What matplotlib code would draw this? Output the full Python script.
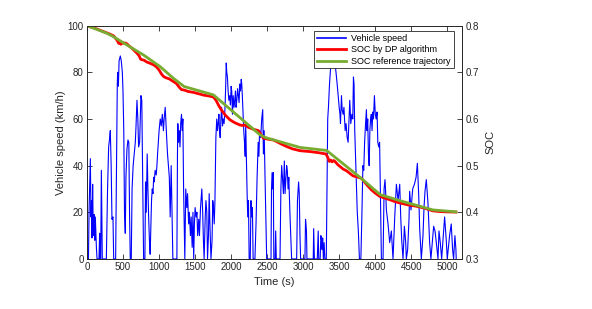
"""Vehicle speed and SOC trajectories (DP vs reference) on twin axes."""
import numpy as np
import matplotlib
matplotlib.use("Agg")
import matplotlib.pyplot as plt

plt.rcParams["font.family"] = ["Liberation Sans", "DejaVu Sans"]

BLUE = "#0000ff"; RED = "#ff0000"; GREEN = "#77ac30"

# vehicle speed trace: (time s, speed km/h)
speed = [
    (0, 0), (20, 0), (28, 20), (46, 43), (55, 18), (62, 25), (69, 9), (78, 32), (85, 15), (92, 10),
    (100, 19), (108, 8), (115, 18), (122, 12), (130, 5), (139, 0), (166, 0), (175, 11), (180, 0), (190, 0),
    (199, 38), (212, 0),
    (268, 0), (285, 30), (300, 48), (315, 52), (323, 55), (335, 40), (346, 17), (360, 18), (370, 0), (397, 0),
    (410, 40), (420, 75), (425, 80), (435, 74), (445, 85), (462, 87), (475, 85), (490, 80), (499, 72),
    (510, 55), (520, 20), (531, 11), (540, 35), (554, 47), (568, 51), (580, 50), (590, 20), (600, 0),
    (614, 0), (625, 30), (640, 40), (655, 45), (670, 50), (680, 57), (693, 68), (705, 60), (716, 48),
    (730, 50), (748, 70), (760, 68), (770, 40), (785, 0),
    (803, 0), (812, 33), (822, 20), (835, 45), (845, 30), (855, 18), (866, 8), (876, 2), (886, 15), (895, 25),
    (905, 30), (915, 28), (925, 35), (933, 33), (945, 38), (960, 36), (970, 40), (979, 45), (990, 50),
    (1000, 55), (1016, 60), (1030, 57), (1045, 62), (1060, 55), (1070, 60), (1085, 65), (1095, 58),
    (1105, 52), (1117, 45), (1130, 40), (1142, 35), (1154, 18), (1162, 30), (1168, 40), (1180, 20), (1191, 0),
    (1247, 0), (1255, 45), (1260, 58), (1270, 50), (1280, 55), (1290, 48), (1300, 58), (1311, 62),
    (1320, 55), (1330, 60), (1340, 30), (1357, 0),
    (1370, 30), (1385, 22), (1395, 28), (1410, 15), (1420, 20), (1435, 10), (1445, 18), (1459, 5),
    (1470, 20), (1480, 0), (1490, 15), (1500, 22), (1514, 18), (1525, 20), (1535, 10), (1550, 17),
    (1560, 10), (1575, 22), (1593, 30), (1605, 20), (1615, 8), (1625, 0), (1640, 18), (1650, 25),
    (1662, 20), (1672, 0), (1685, 10), (1695, 28), (1705, 15), (1720, 0), (1735, 8), (1745, 25),
    (1754, 22), (1765, 15), (1775, 25), (1788, 52), (1800, 60),
    (1810, 55), (1820, 58), (1830, 62), (1838, 55), (1848, 52), (1858, 60), (1868, 65), (1880, 57),
    (1890, 60), (1902, 58), (1915, 65), (1925, 75), (1932, 84), (1939, 80), (1948, 78), (1958, 72),
    (1968, 68), (1980, 70), (1990, 66), (2000, 74), (2008, 72), (2018, 62), (2028, 70), (2040, 65),
    (2050, 68), (2060, 72), (2068, 65), (2078, 68), (2090, 73), (2100, 70), (2110, 67), (2120, 75),
    (2130, 72), (2140, 77), (2147, 75), (2155, 70), (2165, 62), (2175, 55), (2185, 50), (2195, 44),
    (2202, 58), (2210, 45), (2220, 30), (2230, 18), (2240, 25), (2250, 0), (2265, 0), (2275, 25),
    (2285, 18), (2295, 22), (2305, 0), (2330, 0), (2345, 15), (2360, 35), (2375, 50), (2385, 44),
    (2395, 55), (2410, 52), (2424, 60), (2438, 64), (2448, 45), (2458, 55), (2470, 35), (2493, 0),
    (2553, 0), (2560, 30), (2568, 37), (2576, 30), (2585, 37), (2592, 0), (2610, 0), (2618, 12), (2626, 0),
    (2678, 0), (2690, 30), (2701, 40), (2712, 35), (2725, 28), (2738, 42), (2748, 28), (2760, 35),
    (2770, 40), (2779, 38), (2790, 30), (2800, 35), (2815, 20), (2839, 0), (2909, 0), (2920, 25),
    (2936, 33), (2945, 28), (2955, 10), (2964, 0), (3024, 0), (3032, 17), (3038, 15), (3045, 12),
    (3052, 0), (3139, 0), (3145, 13), (3155, 0), (3195, 0), (3208, 12), (3215, 0), (3235, 0), (3245, 10),
    (3255, 8), (3262, 4), (3270, 9), (3280, 0), (3290, 7), (3300, 0), (3320, 0),
    (3332, 35), (3340, 60), (3350, 65), (3365, 75), (3380, 82), (3395, 88), (3410, 87), (3425, 85),
    (3440, 84), (3455, 80), (3471, 75), (3485, 70), (3499, 65), (3510, 62), (3517, 58), (3531, 70),
    (3540, 64), (3554, 62), (3565, 65), (3582, 55), (3595, 58), (3610, 52), (3623, 50), (3635, 60),
    (3646, 68), (3660, 58), (3675, 62), (3688, 60), (3697, 78), (3705, 75), (3715, 55), (3725, 45),
    (3740, 30), (3750, 20), (3765, 12), (3780, 0),
    (3800, 0), (3815, 20), (3828, 40), (3840, 38), (3852, 50), (3865, 58), (3877, 64), (3885, 55),
    (3895, 60), (3905, 45), (3915, 40), (3925, 55), (3935, 60), (3945, 62), (3955, 55), (3965, 63),
    (3975, 60), (3988, 70), (4000, 62), (4012, 60), (4025, 63), (4035, 50), (4048, 48), (4060, 50),
    (4072, 25), (4085, 0),
    (4108, 0), (4122, 30), (4135, 34), (4145, 28), (4154, 21), (4177, 15), (4200, 7), (4223, 12),
    (4246, 0), (4270, 18), (4293, 32), (4316, 25), (4339, 32), (4353, 18), (4367, 8), (4385, 0),
    (4404, 14), (4422, 7), (4431, 0), (4449, 4), (4468, 17), (4477, 29), (4496, 21), (4519, 30),
    (4543, 32), (4566, 35), (4584, 41), (4603, 27), (4616, 13), (4639, 0), (4662, 10), (4676, 22),
    (4690, 29), (4708, 34), (4731, 24), (4754, 7), (4772, 0), (4791, 7), (4810, 14), (4829, 12),
    (4847, 7), (4870, 0), (4884, 12), (4902, 7), (4921, 0), (4939, 8), (4962, 18), (4985, 8),
    (4999, 0), (5031, 10), (5054, 15), (5073, 4), (5087, 0), (5105, 10), (5119, 4), (5123, 0),
]

# SOC from DP optimisation
dp_t = [0, 50, 100, 150, 231, 300, 370, 400, 420, 440, 455, 470, 490, 510, 530, 554, 580, 620, 660, 693,
        720, 745, 762, 790, 830, 880, 923, 960, 1000, 1030, 1062, 1100, 1140, 1200, 1240, 1280, 1310, 1348,
        1400, 1477, 1550, 1620, 1700, 1754, 1790, 1830, 1870, 1920, 1985, 2050, 2124, 2160, 2193, 2240, 2308,
        2378, 2420, 2447, 2500, 2585, 2650, 2700, 2770, 2850, 2955, 3100, 3200, 3315, 3340, 3361, 3380, 3400,
        3420, 3440, 3480, 3520, 3554, 3600, 3650, 3692, 3740, 3807, 3850, 3900, 3946, 4000, 4062, 4120, 4200,
        4270, 4339, 4450, 4570, 4680, 4801, 4900, 5000, 5118]
dp_soc = [0.800, 0.797, 0.795, 0.792, 0.787, 0.783, 0.778, 0.772, 0.768, 0.762, 0.766, 0.760, 0.764, 0.762,
          0.763, 0.761, 0.757, 0.752, 0.746, 0.741, 0.736, 0.728, 0.727, 0.726, 0.722, 0.719, 0.716, 0.712,
          0.705, 0.697, 0.691, 0.688, 0.686, 0.680, 0.676, 0.668, 0.663, 0.662, 0.659, 0.657, 0.654, 0.651,
          0.649, 0.647, 0.640, 0.628, 0.618, 0.608, 0.598, 0.592, 0.587, 0.586, 0.587, 0.582, 0.578, 0.575,
          0.565, 0.559, 0.557, 0.555, 0.550, 0.546, 0.541, 0.536, 0.532, 0.530, 0.528, 0.525, 0.518, 0.509,
          0.512, 0.508, 0.511, 0.509, 0.502, 0.497, 0.4926, 0.489, 0.483, 0.478, 0.476, 0.473, 0.465, 0.456,
          0.448, 0.441, 0.434, 0.431, 0.427, 0.423, 0.420, 0.416, 0.413, 0.409, 0.403, 0.4015, 0.4008, 0.4005]

# SOC reference trajectory
ref_t = [0, 277, 370, 554, 785, 1016, 1200, 1348, 1754, 2400, 2480, 2955, 3325, 3787, 4070, 4339, 4801, 5118]
ref_soc = [0.800, 0.7836, 0.776, 0.7586, 0.737, 0.712, 0.687, 0.6695, 0.6516, 0.566, 0.560, 0.539, 0.5325,
           0.475, 0.4377, 0.425, 0.405, 0.401]

speed_t = [p[0] for p in speed]
speed_v = [p[1] for p in speed]

fig = plt.figure(figsize=(5.92, 3.09), dpi=100)
ax = fig.add_axes([0.147, 0.162, 0.633, 0.755])
ax2 = ax.twinx()

h1, = ax.plot(speed_t, speed_v, color=BLUE, lw=0.8, label="Vehicle speed")
h2, = ax2.plot(dp_t, dp_soc, color=RED, lw=2.0, label="SOC by DP algorithm")
h3, = ax2.plot(ref_t, ref_soc, color=GREEN, lw=2.0, label="SOC reference trajectory")

ax.set_xlim(0, 5200); ax.set_ylim(0, 100)
ax2.set_ylim(0.3, 0.8)
ax.set_xticks(np.arange(0, 5001, 500))
ax.set_yticks(np.arange(0, 101, 20))
ax2.set_yticks(np.arange(0.3, 0.81, 0.1))
ax2.set_yticklabels(["0.3", "0.4", "0.5", "0.6", "0.7", "0.8"])

for a in (ax, ax2):
    a.tick_params(direction="in", length=3.5, width=0.6, labelsize=7, colors="#262626", pad=2.5)
    for s in a.spines.values():
        s.set_linewidth(0.6); s.set_color("#262626")
ax.tick_params(top=True)
ax.set_xlabel("Time (s)", fontsize=8, color="#262626", labelpad=3)
ax.set_ylabel("Vehicle speed (km/h)", fontsize=8, color="#262626", labelpad=1)
ax2.set_ylabel("SOC", fontsize=8, color="#262626", labelpad=5)

leg = ax2.legend(handles=[h1, h2, h3], loc="upper right", bbox_to_anchor=(0.978, 0.975), fontsize=6.5,
                 frameon=True, fancybox=False, framealpha=1, edgecolor="#262626", handlelength=3.2,
                 borderpad=0.3, labelspacing=0.25, handletextpad=0.6, borderaxespad=0)
leg.get_frame().set_linewidth(0.6)
for line in leg.get_lines():
    line.set_linewidth(1.2 if line.get_color() == BLUE else 2.0)

fig.savefig("out.png", dpi=100)
